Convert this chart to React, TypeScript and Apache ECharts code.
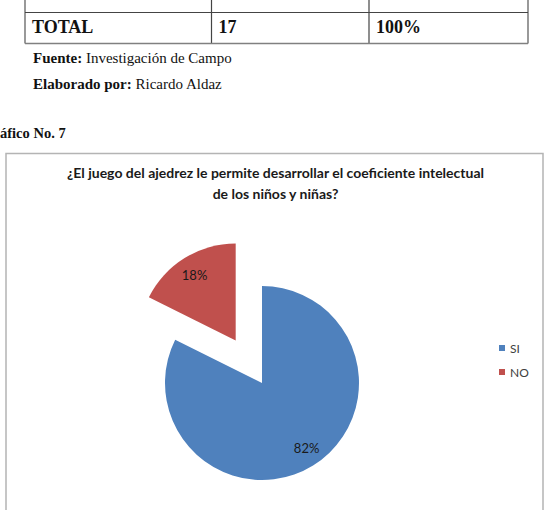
import React, { useEffect, useRef } from "react";
import * as echarts from "echarts";

const categories = ["SI", "NO"];
const values = [14, 3];
const colors = ["#4F81BD", "#C0504D"];
const titleLines = [
  "¿El juego del ajedrez le permite desarrollar el coeficiente intelectual",
  "de los niños y niñas?",
];
const tableTotal = ["TOTAL", "17", "100%"];

export default function App() {
  const ref = useRef<HTMLDivElement>(null);
  useEffect(() => {
    if (!ref.current) return;
    const chart = echarts.init(ref.current, undefined, { renderer: "svg" });
    const serif = "'Liberation Serif', 'Times New Roman', serif";
    const sans = "Lato, Carlito, 'Open Sans', sans-serif";
    const labelOffsets = [
      [17.5, 21],
      [-14, -21.5],
    ];
    const tableLine = { stroke: "#444", lineWidth: 1.2 };
    const outerLine = { stroke: "#808080", lineWidth: 1.6 };
    const colX = [25, 211.5, 369, 528];
    chart.setOption({
      animation: false,
      backgroundColor: "#ffffff",
      graphic: [
        // table fragment
        { type: "line", shape: { x1: colX[0], y1: 0, x2: colX[0], y2: 43.5 }, style: outerLine },
        { type: "line", shape: { x1: colX[3], y1: 0, x2: colX[3], y2: 43.5 }, style: outerLine },
        { type: "line", shape: { x1: colX[1], y1: 0, x2: colX[1], y2: 43.5 }, style: tableLine },
        { type: "line", shape: { x1: colX[2], y1: 0, x2: colX[2], y2: 43.5 }, style: tableLine },
        { type: "line", shape: { x1: colX[0], y1: 12.5, x2: colX[3], y2: 12.5 }, style: tableLine },
        { type: "line", shape: { x1: colX[0], y1: 43.5, x2: colX[3], y2: 43.5 }, style: outerLine },
        ...tableTotal.map((t, i) => ({
          type: "text",
          x: colX[i] + 7,
          y: 27,
          style: {
            text: t,
            font: `bold 18px ${serif}`,
            fill: "#111",
            textVerticalAlign: "middle",
          },
        })),
        {
          type: "text",
          x: 33,
          y: 58,
          style: {
            text: "{b|Fuente:} Investigación de Campo",
            font: `15px ${serif}`,
            fill: "#111",
            textVerticalAlign: "middle",
            rich: { b: { fontWeight: "bold", fontFamily: serif, fontSize: 15 } },
          },
        },
        {
          type: "text",
          x: 33,
          y: 84,
          style: {
            text: "{b|Elaborado por:} Ricardo Aldaz",
            font: `15px ${serif}`,
            fill: "#111",
            textVerticalAlign: "middle",
            rich: { b: { fontWeight: "bold", fontFamily: serif, fontSize: 15 } },
          },
        },
        {
          type: "text",
          x: 0,
          y: 133,
          style: {
            text: "áfico No. 7",
            font: `bold 14.5px ${serif}`,
            fill: "#111",
            textVerticalAlign: "middle",
          },
        },
        // chart frame
        {
          type: "rect",
          shape: { x: 6, y: 153.5, width: 537, height: 370 },
          style: { fill: "none", stroke: "#b4b4b4", lineWidth: 1.5 },
        },
        ...titleLines.map((t, i) => ({
          type: "text",
          x: 275.5,
          y: 172 + i * 21,
          style: {
            text: t,
            font: `bold 14px ${sans}`,
            fill: "#1a1a1a",
            textAlign: "center",
            textVerticalAlign: "middle",
          },
        })),
      ],
      legend: {
        orient: "vertical",
        left: 494,
        top: 337,
        itemWidth: 6,
        itemHeight: 6,
        itemGap: 12,
        icon: "rect",
        data: categories,
        textStyle: { fontFamily: sans, fontSize: 12, color: "#404040", lineHeight: 12 },
        selectedMode: false,
      },
      series: [
        {
          type: "pie",
          center: [262, 383],
          radius: 97,
          startAngle: 90,
          clockwise: true,
          selectedMode: "single",
          selectedOffset: 50,
          percentPrecision: 0,
          avoidLabelOverlap: false,
          emphasis: { disabled: true },
          label: {
            show: true,
            position: "inside",
            formatter: "{d}%",
            fontFamily: sans,
            fontSize: 13,
            color: "#1a1a1a",
          },
          labelLine: { show: false },
          itemStyle: { borderWidth: 0 },
          data: categories.map((c, i) => ({
            name: c,
            value: values[i],
            selected: c === "NO",
            itemStyle: { color: colors[i] },
            label: { offset: labelOffsets[i] },
            select: {
              itemStyle: { color: colors[i] },
              label: { offset: labelOffsets[i] },
            },
          })),
        },
      ],
    });
    return () => chart.dispose();
  }, []);
  return (
    <div
      ref={ref}
      style={{ position: "fixed", left: 0, top: 0, width: 548, height: 510 }}
    />
  );
}
